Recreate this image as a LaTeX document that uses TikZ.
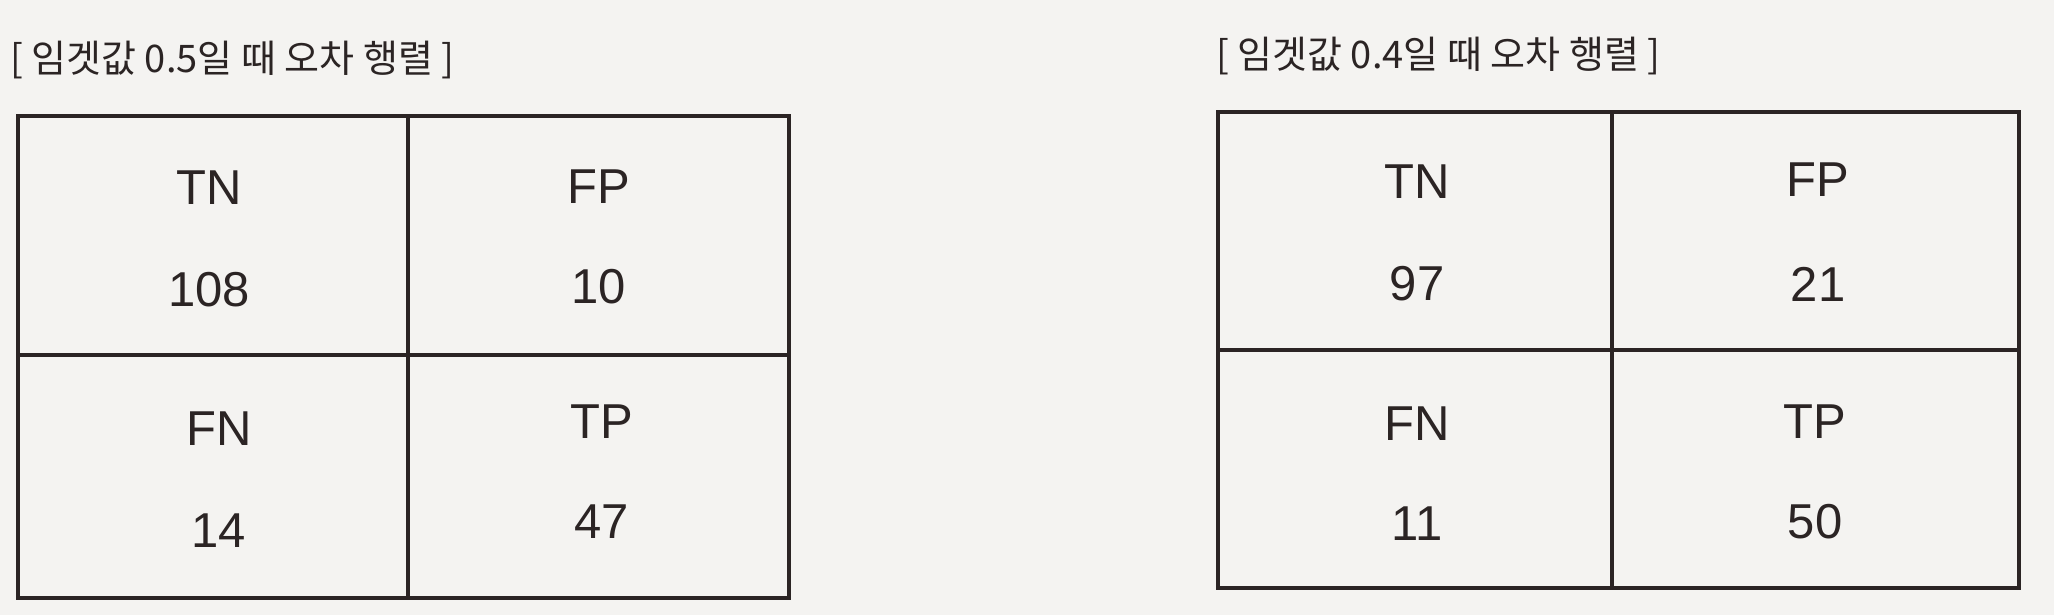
\documentclass[tikz,border=0pt]{standalone}
\usepackage{fontspec}
\setmainfont{Liberation Sans}
\newfontfamily\hangul{Noto Sans CJK KR}
\usetikzlibrary{positioning}
\definecolor{paper}{HTML}{F4F3F1}
\definecolor{ink}{HTML}{2B2424}
\tikzset{
	every node/.style={
		font=\fontsize{49}{58}\selectfont,
		text=ink
	},
	caption/.style={
		anchor=west,
		inner sep=0pt,
		font=\hangul\fontsize{38}{44}\selectfont
	},
	grid/.style={
		draw=ink,
		line width=3.5pt
	}
}
\begin{document}
\begin{tikzpicture}[x=1pt,y=-1pt]
	
	\fill[paper] (0,0) rectangle (2054,615);
	\useasboundingbox (0,0) rectangle (2054,615);
	
	% threshold 0.5
	\node[caption] (ltitle) at (10,60) {[ 임겟값 0.5일 때 오차 행렬 ]};
	\draw[grid] (18,116) rectangle (789,598);
	\draw[grid] (408,116) -- (408,598);
	\draw[grid] (18,355) -- (789,355);
	
	% threshold 0.4
	\node[caption] (rtitle) at (1216,56) {[ 임겟값 0.4일 때 오차 행렬 ]};
	\draw[grid] (1218,112) rectangle (2019,588);
	\draw[grid] (1612,112) -- (1612,588);
	\draw[grid] (1218,350) -- (2019,350);
	
	\foreach \name/\x/\y/\lab/\val/\vy in {%
			ltn/209/188/TN/108/290,
			lfp/599/187/FP/10/287,
			lfn/219/429/FN/14/531,
			ltp/602/422/TP/47/522,
			rtn/1417/182/TN/97/284,
			rfp/1818/180/FP/21/284,
			rfn/1417/424/FN/11/524,
			rtp/1815/422/TP/50/522} {
		\node (\name) at (\x,\y) {\lab};
		\node (\name val) at (\x,\vy) {\val};
	}
	
\end{tikzpicture}
\end{document}
